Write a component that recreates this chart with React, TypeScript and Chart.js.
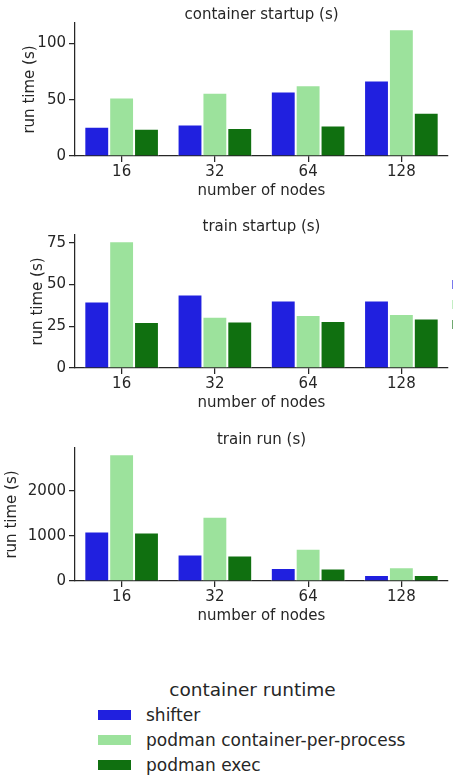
import { useEffect, useRef } from 'react';
import { Chart, registerables } from 'chart.js';

Chart.register(...registerables);

const FONT = "'DejaVu Sans', sans-serif";
const INK = '#262626';

// x categories: cluster sizes
const nodeCounts = ['16', '32', '64', '128'];

// container runtimes (series) and their colours
const runtimeNames = ['shifter', 'podman container-per-process', 'podman exec'];
const runtimeColors = ['#2020df', '#9ce29c', '#107010'];

// container startup (s)
const containerStartupShifter = [26.1, 28.1, 57.4, 67.2];
const containerStartupPerProcess = [52.1, 56.3, 63.0, 112.7];
const containerStartupExec = [24.3, 24.9, 27.2, 38.5];

// train startup (s)
const trainStartupShifter = [39.9, 44.0, 40.5, 40.5];
const trainStartupPerProcess = [75.9, 30.7, 31.7, 32.3];
const trainStartupExec = [27.5, 27.9, 28.1, 29.7];

// train run (s)
const trainRunShifter = [1100, 587, 290, 134];
const trainRunPerProcess = [2812, 1429, 714, 306];
const trainRunExec = [1078, 565, 275, 134];

// y tick values per panel
const containerStartupTicks = [0, 50, 100];
const trainStartupTicks = [0, 25, 50, 75];
const trainRunTicks = [0, 1000, 2000];

type Panel = {
  title: string;
  series: number[][];
  ticks: number[];
  top: number;
  yTitleGap: number;
};

const panels: Panel[] = [
  {
    title: 'container startup (s)',
    series: [containerStartupShifter, containerStartupPerProcess, containerStartupExec],
    ticks: containerStartupTicks,
    top: 0,
    yTitleGap: 21,
  },
  {
    title: 'train startup (s)',
    series: [trainStartupShifter, trainStartupPerProcess, trainStartupExec],
    ticks: trainStartupTicks,
    top: 212,
    yTitleGap: 29.5,
  },
  {
    title: 'train run (s)',
    series: [trainRunShifter, trainRunPerProcess, trainRunExec],
    ticks: trainRunTicks,
    top: 425,
    yTitleGap: 3,
  },
];

const PANEL_W = 460;
const PANEL_H = 212;

function BarPanel({ title, series, ticks, top, yTitleGap }: Panel) {
  const ref = useRef<HTMLCanvasElement>(null);

  useEffect(() => {
    if (!ref.current) return;
    const peak = Math.max(...series.flat());
    const axisGrid = {
      display: true,
      drawOnChartArea: false,
      drawTicks: true,
      tickLength: 6,
      color: INK,
      tickColor: INK,
      lineWidth: 1.25,
      tickWidth: 1.25,
    };

    // panel title, centred over the plotting area
    const panelTitle = {
      id: 'panelTitle',
      afterDraw(chart: any) {
        const { ctx, chartArea } = chart;
        ctx.save();
        ctx.fillStyle = INK;
        ctx.font = `15px ${FONT}`;
        ctx.textAlign = 'center';
        ctx.textBaseline = 'middle';
        ctx.fillText(title, (chartArea.left + chartArea.right) / 2, 15.5);
        ctx.restore();
      },
    };

    const chart = new Chart(ref.current, {
      type: 'bar',
      data: {
        labels: nodeCounts,
        datasets: series.map((values, i) => ({
          label: runtimeNames[i],
          data: values,
          backgroundColor: runtimeColors[i],
          borderColor: '#ffffff',
          borderWidth: 1,
          borderSkipped: 'start',
          categoryPercentage: 0.8,
          barPercentage: 1,
        })),
      },
      plugins: [panelTitle],
      options: {
        animation: false,
        responsive: false,
        layout: { padding: { left: 0, right: 12, top: 23, bottom: 0 } },
        plugins: {
          legend: { display: false },
          tooltip: { enabled: false },
          title: { display: false },
        },
        scales: {
          x: {
            type: 'category',
            offset: true,
            grid: { ...axisGrid, offset: false },
            border: { display: true, color: INK, width: 1.25 },
            ticks: { color: INK, font: { family: FONT, size: 15 }, padding: 1, maxRotation: 0 },
            title: {
              display: true,
              text: 'number of nodes',
              color: INK,
              font: { family: FONT, size: 15 },
              padding: { top: 0, bottom: 12 },
            },
            afterFit: (scale: any) => {
              scale.height = 56;
            },
          },
          y: {
            min: 0,
            max: peak * 1.05,
            grid: axisGrid,
            border: { display: true, color: INK, width: 1.25 },
            ticks: {
              color: INK,
              font: { family: FONT, size: 15 },
              padding: 3,
              callback: (v: any) => String(v),
            },
            afterBuildTicks: (scale: any) => {
              scale.ticks = ticks.map((value) => ({ value }));
            },
            title: {
              display: true,
              text: 'run time (s)',
              color: INK,
              font: { family: FONT, size: 15 },
              padding: { top: yTitleGap, bottom: 0 },
            },
            afterFit: (scale: any) => {
              scale.width = 75;
            },
          },
        },
      } as any,
    });
    return () => chart.destroy();
  }, [title, series, ticks, yTitleGap]);

  return (
    <canvas
      ref={ref}
      width={PANEL_W}
      height={PANEL_H}
      style={{ position: 'absolute', left: 0, top, width: PANEL_W, height: PANEL_H, display: 'block' }}
    />
  );
}

export default function App() {
  return (
    <div
      style={{
        position: 'absolute',
        left: 0,
        top: 0,
        width: 460,
        height: 775,
        background: '#ffffff',
        overflow: 'hidden',
        fontFamily: FONT,
        color: INK,
      }}
    >
      {panels.map((p) => (
        <BarPanel key={p.title} {...p} />
      ))}

      {/* legend of the middle panel, cut off at the right edge */}
      {runtimeColors.map((c, i) => (
        <div
          key={'edge' + i}
          style={{
            position: 'absolute',
            left: 452,
            top: 280 + i * 20,
            width: 1,
            height: 9,
            background: c,
            opacity: 0.6,
          }}
        />
      ))}

      {/* shared legend */}
      <div
        style={{
          position: 'absolute',
          left: 98,
          top: 679,
          width: 309,
          textAlign: 'center',
          fontSize: 18.5,
          lineHeight: '22px',
          whiteSpace: 'nowrap',
        }}
      >
        container runtime
      </div>
      {runtimeNames.map((name, i) => (
        <div
          key={name}
          style={{
            position: 'absolute',
            left: 98,
            top: 702.5 + i * 25,
            height: 25,
            display: 'flex',
            alignItems: 'center',
            whiteSpace: 'nowrap',
          }}
        >
          <span style={{ display: 'inline-block', width: 33, height: 10, background: runtimeColors[i], marginRight: 15 }} />
          <span style={{ fontSize: 17, lineHeight: '25px' }}>{name}</span>
        </div>
      ))}
    </div>
  );
}
